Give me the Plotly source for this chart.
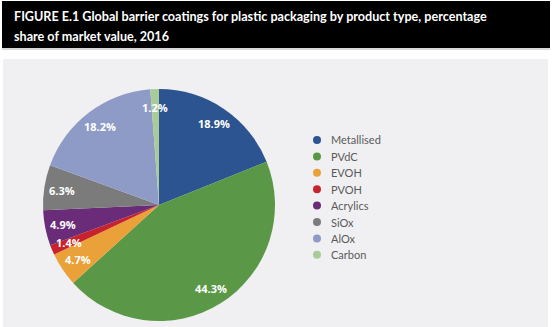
import math
import plotly.graph_objects as go

# Market value share by product type, 2016 (%)
categories = ["Metallised", "PVdC", "EVOH", "PVOH", "Acrylics", "SiOx", "AlOx", "Carbon"]
shares = [18.9, 44.3, 4.7, 1.4, 4.9, 6.3, 18.2, 1.2]
colors = ["#2b5490", "#5a9847", "#eba139", "#c8232c", "#6a2c78", "#7b7b7b", "#8e9bc6", "#a9cb9a"]

title_lines = [
    "FIGURE E.1 Global barrier coatings for plastic packaging by product type, percentage",
    "share of market value, 2016",
]

W, H = 552, 327

# pie placement in pixels
cx, cy, rad = 159, 205, 116


def px(x):
    return x / W


def py(y):
    return 1 - y / H


fig = go.Figure()

fig.add_trace(go.Pie(
    labels=categories,
    values=shares,
    sort=False,
    direction="clockwise",
    rotation=0,
    marker=dict(colors=colors, line=dict(width=0)),
    textinfo="none",
    hoverinfo="label+percent",
    showlegend=False,
    domain=dict(x=[px(cx - rad), px(cx + rad)], y=[py(cy + rad), py(cy - rad)]),
))

shapes = [
    # header bar
    dict(type="rect", xref="paper", yref="paper", x0=px(2), x1=px(550), y0=py(48), y1=py(1),
         fillcolor="#000000", line=dict(width=0), layer="below"),
    dict(type="line", xref="paper", yref="paper", x0=px(2), x1=px(550), y0=py(49), y1=py(49),
         line=dict(color="#b0b0b0", width=1), layer="below"),
    # chart panel
    dict(type="rect", xref="paper", yref="paper", x0=px(3), x1=px(548), y0=0, y1=py(59),
         fillcolor="#f0f0f2", line=dict(width=0), layer="below"),
]

annotations = []
for i, line in enumerate(title_lines):
    annotations.append(dict(
        text="<b>" + line + "</b>", xref="paper", yref="paper",
        x=px(12), y=py(17 + 19 * i), xanchor="left", yanchor="middle",
        showarrow=False, font=dict(family="Lato", size=12.6, color="#ffffff"),
    ))

# value labels at each slice's mid-angle
total = sum(shares)
cum = 0.0
for v in shares:
    mid = (cum + v / 2) / total * 2 * math.pi
    cum += v
    r = rad * 0.845
    lx = cx + r * math.sin(mid)
    ly = cy - r * math.cos(mid)
    annotations.append(dict(
        text="<b>%.1f%%</b>" % v, xref="paper", yref="paper",
        x=px(lx), y=py(ly), xanchor="center", yanchor="middle",
        showarrow=False, font=dict(family="Open Sans", size=11, color="#ffffff"),
    ))

# legend with round swatches
leg_x, leg_y, leg_step = 317, 140, 16.4
for i, (name, col) in enumerate(zip(categories, colors)):
    yy = leg_y + i * leg_step
    shapes.append(dict(type="circle", xref="paper", yref="paper",
                       x0=px(leg_x - 4), x1=px(leg_x + 4), y0=py(yy + 4), y1=py(yy - 4),
                       fillcolor=col, line=dict(width=0)))
    annotations.append(dict(
        text=name, xref="paper", yref="paper", x=px(leg_x + 12), y=py(yy),
        xanchor="left", yanchor="middle", showarrow=False,
        font=dict(family="Lato", size=11, color="#5a5a5a"),
    ))

fig.update_layout(
    width=W, height=H,
    margin=dict(l=0, r=0, t=0, b=0),
    paper_bgcolor="#ffffff",
    plot_bgcolor="#ffffff",
    shapes=shapes,
    annotations=annotations,
)

fig.write_html("out.html", config={"displayModeBar": False})
